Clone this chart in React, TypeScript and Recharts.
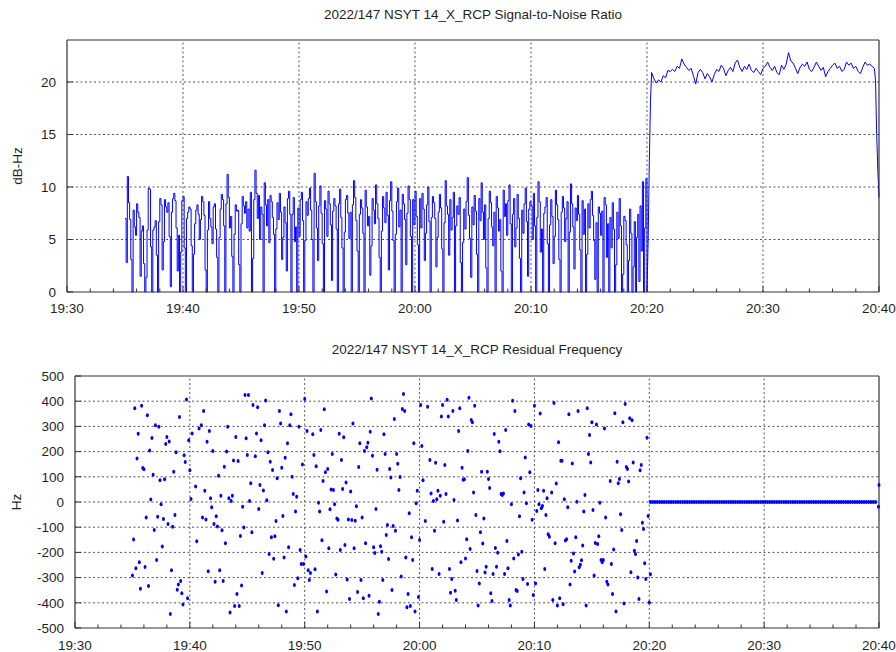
import { Line, LineChart, ReferenceLine, Scatter, ScatterChart, XAxis, YAxis } from "recharts";

const FONT = '"Liberation Sans", Arial, Helvetica, sans-serif';
const INK = "#1f1f1f";
const FRAME = "#333";
const GRID = "#555";
const BLUE = "#0000ff";

// time axis in minutes after 00:00 UTC
const T_MIN = 1170; // 19:30
const T_MAX = 1240; // 20:40
const T_MAJOR = [1170, 1180, 1190, 1200, 1210, 1220, 1230, 1240];
const T_LABELS = ["19:30", "19:40", "19:50", "20:00", "20:10", "20:20", "20:30", "20:40"];
const T_TICKS = Array.from({ length: (T_MAX - T_MIN) / 2 + 1 }, (_, i) => T_MIN + 2 * i);

const SNR_TICKS = [0, 5, 10, 15, 20];
const HZ_TICKS = [-500, -400, -300, -200, -100, 0, 100, 200, 300, 400, 500];

// SNR (dB-Hz) while searching: 19:35:00 .. 20:20:00, one sample every 6 s
const SNR_SEARCH_START = 1175;
const SNR_SEARCH = [
  7.0, 2.8, 11.0, 8.5, 6.9, 3.1, 0, 7.8, 6.2, 5.4,
  8.4, 7.6, 7.1, 1.5, 5.8, 6.3, 2.7, 0, 1.4, 5.9,
  9.9, 9.8, 4.3, 0, 5.9, 6.2, 6.8, 3.5, 0, 6.7,
  8.9, 8.3, 2.1, 4.8, 8.8, 8.1, 7.6, 8.5, 5.3, 0.5,
  7.6, 8.9, 9.4, 8.7, 6.1, 2.0, 5.4, 0, 3.8, 8.7,
  9.1, 4.2, 0, 7.0, 7.6, 8.1, 7.9, 4.4, 0, 3.6,
  6.5, 7.8, 8.3, 7.4, 5.0, 6.9, 9.1, 8.6, 7.3, 2.1,
  0, 5.9, 8.6, 7.0, 6.2, 4.6, 8.1, 8.4, 6.0, 3.3,
  0, 5.2, 7.9, 9.3, 8.8, 6.3, 0, 8.4, 11.2, 9.0,
  6.1, 7.2, 3.4, 0, 5.5, 8.3, 7.7, 7.8, 2.6, 0,
  6.5, 9.1, 8.2, 7.5, 8.6, 6.1, 7.9, 5.8, 9.5, 0,
  3.2, 8.8, 11.6, 9.4, 7.0, 9.2, 5.0, 8.1, 7.4, 0,
  10.4, 8.3, 6.3, 8.8, 4.7, 9.2, 8.6, 7.1, 5.5, 0,
  6.0, 8.5, 6.9, 9.4, 7.6, 3.1, 5.2, 8.1, 6.6, 2.0,
  8.9, 9.6, 7.4, 0, 7.4, 9.0, 4.8, 6.2, 0, 8.0,
  5.3, 8.8, 9.5, 6.8, 0, 4.9, 8.6, 7.3, 8.9, 9.9,
  7.8, 5.0, 0, 11.3, 8.6, 6.1, 3.0, 8.2, 10.1, 7.5,
  4.6, 0, 8.7, 7.9, 5.3, 9.6, 8.4, 6.4, 1.1, 7.7,
  8.9, 8.2, 6.0, 0, 8.4, 9.8, 7.1, 4.2, 0, 5.7,
  8.8, 9.2, 7.5, 5.1, 7.6, 0, 8.3, 10.6, 9.0, 6.8,
  3.9, 0, 7.4, 8.8, 8.0, 5.6, 0, 9.7, 8.1, 6.3,
  7.2, 1.6, 4.4, 8.9, 7.8, 6.5, 10.2, 8.4, 7.0, 3.3,
  0, 5.8, 9.1, 8.0, 6.6, 9.5, 7.3, 2.1, 8.7, 10.5,
  7.7, 4.9, 0, 5.5, 8.6, 9.9, 6.2, 7.8, 0, 9.3,
  8.4, 6.9, 2.6, 7.5, 10.1, 8.8, 5.3, 0, 8.8, 6.4,
  9.6, 7.2, 4.5, 0, 8.9, 6.1, 9.4, 7.9, 3.0, 5.6,
  8.3, 10.0, 6.7, 0, 7.1, 9.1, 8.5, 7.0, 2.4, 5.2,
  7.6, 9.3, 8.0, 4.1, 0, 6.6, 10.6, 8.2, 7.4, 3.5,
  8.8, 5.9, 7.1, 9.5, 0, 6.3, 8.2, 7.4, 9.0, 2.8,
  0, 4.7, 7.9, 6.0, 8.6, 10.9, 7.3, 5.1, 1.4, 8.1,
  6.4, 9.2, 7.7, 3.6, 0, 8.9, 6.8, 10.4, 7.6, 5.0,
  8.3, 2.3, 0, 7.0, 9.6, 8.5, 6.2, 4.4, 7.6, 0,
  9.1, 8.0, 5.8, 6.9, 2.0, 0, 9.7, 7.2, 8.4, 5.4,
  8.7, 10.2, 6.5, 0, 7.4, 8.9, 4.3, 6.1, 9.3, 7.0,
  3.2, 0, 7.8, 5.6, 8.4, 9.9, 6.7, 1.5, 7.9, 8.6,
  8.2, 5.0, 9.4, 6.3, 0, 7.1, 10.5, 8.6, 3.8, 6.0,
  0, 7.5, 8.1, 9.0, 4.6, 0, 6.4, 8.8, 7.2, 2.7,
  5.3, 9.7, 8.3, 6.9, 3.1, 0, 7.6, 9.1, 8.0, 4.8,
  7.0, 8.6, 0, 5.7, 10.3, 8.4, 6.2, 2.2, 8.0, 6.8,
  9.2, 7.4, 4.0, 0, 8.7, 5.5, 7.9, 0, 3.6, 8.4,
  6.1, 8.8, 9.6, 7.3, 4.9, 1.2, 6.6, 0, 8.1, 7.5,
  5.4, 7.7, 0, 9.0, 8.3, 3.3, 6.5, 0, 7.1, 4.2,
  8.5, 6.0, 0, 2.6, 7.6, 5.1, 8.9, 6.3, 0, 1.7,
  7.2, 6.8, 4.5, 0, 3.0, 7.9, 5.6, 0, 2.4, 6.7,
  0, 5.2, 7.4, 1.0, 8.2, 3.9, 10.5, 0, 6.1, 10.8,
  0,
];

// acquisition: 20:20:06 .. 20:20:18, every 6 s
const SNR_RISE_TIMES = [1220.1, 1220.2, 1220.3];
const SNR_RISE = [5.0, 12.4, 18.2];

// SNR after lock: 20:20:24, one sample every 12 s
const SNR_LOCK_START = 1220.4;
const SNR_LOCK = [
  20.9, 20.3, 19.9, 20.2, 20.0, 20.6, 20.4, 21.1, 21.0, 21.2,
  21.0, 21.5, 21.3, 22.2, 21.7, 21.4, 21.1, 21.3, 20.6, 19.8,
  20.9, 21.2, 20.9, 20.3, 20.8, 20.5, 20.0, 20.7, 21.2, 21.0,
  21.6, 21.3, 20.6, 21.1, 21.4, 21.0, 21.8, 22.1, 21.4, 21.0,
  21.5, 21.2, 21.7, 21.1, 20.9, 21.3, 21.0, 20.7, 21.3, 21.5,
  21.9, 21.4, 21.1, 21.5, 20.9, 20.7, 21.6, 21.2, 21.7, 22.8,
  22.0, 21.8, 21.3, 20.8, 21.4, 21.7, 21.5, 21.9, 21.2, 21.0,
  21.4, 21.9, 21.5, 21.1, 21.4, 20.5, 21.0, 21.3, 21.6, 21.8,
  21.3, 21.5, 21.0, 21.2, 21.9, 21.6, 21.8, 21.3, 21.5, 21.0,
  20.8, 21.4, 21.9, 21.6, 21.7, 21.5, 21.3,
];

// loss of signal at the end of the pass
const SNR_LOSS_TIMES = [1239.7, 1239.8, 1239.9, 1240];
const SNR_LOSS = [20.2, 15.0, 11.6, 9.0];

// residual frequency (Hz) while searching: 19:35:00, every 6 s, null = no fix
const HZ_SEARCH_START = 1175;
const HZ_SEARCH = [
  -292, -149, 372, -263, 173, 271, -239, -344, 382, 135,
  130, -258, -62, 344, -333, 204, 10, 254, 108, -111,
  305, -230, -59, 299, 86, -9, -177, -67, 90, 230,
  258, -87, 240, -444, -271, -98, 120, -52, 197, -348,
  -327, 337, -313, -362, -407, 186, 159, 407, -382, 245,
  126, 12, 272, null, null, 62, -156, null, 292, null,
  305, -62, 361, 45, -69, 239, -275, 282, 15, -21,
  202, -87, -316, -57, -97, 104, -271, 25, -112, -313,
  140, -164, 200, 299, 15, -438, 4, 25, 165, -413,
  258, -365, 163, -413, -135, -331, -19, -101, 425, 253,
  187, 425, 4, 74, -120, 385, null, 182, 272, 376,
  -28, 67, 245, -282, 46, 305, 403, 7, 197, -206,
  160, -140, 127, -225, -136, -75, 94, -410, 361, 312,
  136, -56, -220, 176, -435, 233, -180, 305, 348, 100,
  32, -329, -38, 21, -303, 299, -190, -246, 149, -246,
  409, -216, 282, -271, -310, -282, null, 269, 187, -267,
  142, -435, -3, -38, 286, -152, 83, 368, 118, -355,
  131, -184, -29, 50, 190, 48, -9, -288, -65, -70,
  271, -190, 167, 52, 257, -171, 77, -308, -69, -385,
  42, -71, 312, -184, -74, -17, -357, 139, 233, -310,
  -62, -382, 202, -164, 217, 235, -372, 279, 411, 184,
  -180, -202, -28, 128, -444, -396, -176, -197, -310, 269,
  190, -131, -91, -226, 131, 97, -349, -95, 329, -114,
  190, 152, 48, 99, -296, 369, 429, 361, -220, -418,
  -365, -45, -413, -140, -230, 233, -435, -5, 45, -377,
  -151, 385, 222, 86, null, -75, null, 378, null, 167,
  34, -266, 4, -114, 156, 11, 45, -286, 25, 339,
  385, -78, 147, 32, 406, 339, -266, -360, -306, 361,
  8, -352, -389, -73, 282, 372, -239, 136, 88, 90,
  -224, -148, 202, 414, -187, 325, 316, 38, 382, -52,
  -274, -411, -323, -120, 120, -165, -65, -280, -257, 120,
  91, 56, -362, -393, -286, 270, -183, -257, -201, 239,
  201, 32, 28, 34, -286, 286, -155, -263, -389, -411,
  -9, 402, -224, 361, -349, -353, -208, -57, 94, -197,
  -306, 38, 177, -5, -325, 308, 118, 302, -70, -369,
  382, -323, -36, 48, -9, 351, -25, -16, 45, -266,
  -52, 15, -128, -138, null, 38, -389, 393, -164, 73,
  -411, 237, -382, 164, 164, -406, 11, -153, -148, -21,
  348, -327, -233, 153, -204, -276, -140, 1, 361, -259,
  -249, -231, -173, -38, 28, -411, 372, 190, 266, 157,
  316, -32, -292, -163, 308, -167, -136, -3, -230, -239,
  -230, 292, -62, -316, -327, null, 83, -246, -365, -188,
  352, -435, 160, 74, 91, -49, -111, 316, -403, 389,
  139, 131, 81, 332, -279, 324, 157, -193, -206, -155,
  -300, -385, 126, 147, -82, -107, -243, -306, 255, -56,
  -399, -287,
];

// residual frequency after lock: 20:20:06, every 12 s
const HZ_LOCK_START = 1220.1;
const HZ_LOCK = [
  0, 0, 0, 0, 0, 0, 0, 0, 0, 0, 0,
  0, 0, 0, 0, 0, 0, 0, 0, 0, 0, 0,
  0, 0, 0, 0, 0, 0, 0, 0, 0, 0, 0,
  0, 0, 0, 0, 0, 0, 0, 0, 0, 0, 0,
  0, 0, 0, 0, 0, 0, 0, 0, 0, 0, 0,
  0, 0, 0, 0, 0, 0, 0, 0, 0, 0, 0,
  0, 0, 0, 0, 0, 0, 0, 0, 0, 0, 0,
  0, 0, 0, 0, 0, 0, 0, 0, 0, 0, 0,
  0, 0, 0, 0, 0, 0, 0, 0, 0, 0, 0,
];

const HZ_LOSS_TIMES = [1239.95, 1240];
const HZ_LOSS = [-19, 67];

// "search" is drawn as steps, "lock" as a plain polyline; the last search
// sample also starts the lock trace so the two join up
const snrData: Array<{ t: number; search?: number; lock?: number }> = [
  ...SNR_SEARCH.map((v, i) => ({
    t: SNR_SEARCH_START + i * 0.1,
    search: v,
    lock: i === SNR_SEARCH.length - 1 ? v : undefined,
  })),
  ...SNR_RISE.map((v, i) => ({ t: SNR_RISE_TIMES[i], lock: v })),
  ...SNR_LOCK.map((v, i) => ({ t: SNR_LOCK_START + i * 0.2, lock: v })),
  ...SNR_LOSS.map((v, i) => ({ t: SNR_LOSS_TIMES[i], lock: v })),
];

const hzData = [
  ...HZ_SEARCH.map((v, i) => ({ t: HZ_SEARCH_START + i * 0.1, hz: v })),
  ...HZ_LOCK.map((v, i) => ({ t: HZ_LOCK_START + i * 0.2, hz: v })),
  ...HZ_LOSS.map((v, i) => ({ t: HZ_LOSS_TIMES[i], hz: v })),
].filter((p) => p.hz !== null);

const textStyle = { fontFamily: FONT, fontSize: 13.5, fill: INK };

// gnuplot style: ticks point into the plot, labels only on bottom/left
function TimeTick(props: any) {
  const { x, y, payload, side, labelDy } = props;
  const k = T_MAJOR.indexOf(payload.value);
  const len = k >= 0 ? 6 : 3.5;
  const dir = side === "top" ? 1 : -1;
  return (
    <g>
      <line x1={x} x2={x} y1={y} y2={y + dir * len} stroke={FRAME} />
      {side === "bottom" && k >= 0 && (
        <text x={x} y={y + labelDy} textAnchor="middle" {...textStyle}>
          {T_LABELS[k]}
        </text>
      )}
    </g>
  );
}

function ValueTick(props: any) {
  const { x, y, payload, side } = props;
  const dir = side === "left" ? 1 : -1;
  return (
    <g>
      <line x1={x} x2={x + dir * 6} y1={y} y2={y} stroke={FRAME} />
      {side === "left" && (
        <text x={x - 11} y={y + 4.8} textAnchor="end" {...textStyle}>
          {payload.value}
        </text>
      )}
    </g>
  );
}

// top/right axes are 1px thick (a 0px axis is not drawn), they only carry the frame and inner ticks
const FrameAxes = ({ yTicks, yDomain, yWidth, xHeight, labelDy, yKey }: any) => [
  <XAxis
    key="xt"
    xAxisId="top"
    orientation="top"
    type="number"
    domain={[T_MIN, T_MAX]}
    ticks={T_TICKS}
    interval={0}
    height={1}
    tickSize={0}
    tickMargin={0}
    axisLine={{ stroke: FRAME, strokeWidth: 1.2 }}
    tickLine={false}
    tick={(p: any) => <TimeTick {...p} side="top" />}
  />,
  <XAxis
    key="xb"
    dataKey="t"
    type="number"
    domain={[T_MIN, T_MAX]}
    ticks={T_TICKS}
    interval={0}
    height={xHeight}
    tickSize={0}
    tickMargin={0}
    axisLine={{ stroke: FRAME, strokeWidth: 1.2 }}
    tickLine={false}
    tick={(p: any) => <TimeTick {...p} side="bottom" labelDy={labelDy} />}
  />,
  <YAxis
    key="yl"
    dataKey={yKey}
    type="number"
    domain={yDomain}
    ticks={yTicks}
    interval={0}
    width={yWidth}
    tickSize={0}
    tickMargin={0}
    axisLine={{ stroke: FRAME, strokeWidth: 1.2 }}
    tickLine={false}
    tick={(p: any) => <ValueTick {...p} side="left" />}
  />,
  <YAxis
    key="yr"
    yAxisId="right"
    orientation="right"
    type="number"
    domain={yDomain}
    ticks={yTicks}
    interval={0}
    width={1}
    tickSize={0}
    tickMargin={0}
    axisLine={{ stroke: FRAME, strokeWidth: 1.2 }}
    tickLine={false}
    tick={(p: any) => <ValueTick {...p} side="right" />}
  />,
];

const gridLine = { stroke: GRID, strokeDasharray: "2 2.5", strokeWidth: 1 };

function Title({ text, cx, cy }: { text: string; cx: number; cy: number }) {
  return (
    <div
      style={{
        position: "absolute",
        left: cx - 300,
        top: cy - 8,
        width: 600,
        lineHeight: "16px",
        textAlign: "center",
        fontSize: 13.5,
        color: INK,
      }}
    >
      {text}
    </div>
  );
}

function AxisName({ text, cx, cy }: { text: string; cx: number; cy: number }) {
  return (
    <div
      style={{
        position: "absolute",
        left: cx - 50,
        top: cy - 8,
        width: 100,
        lineHeight: "16px",
        textAlign: "center",
        fontSize: 13.5,
        color: INK,
        transform: "rotate(-90deg)",
      }}
    >
      {text}
    </div>
  );
}

const Dot = (p: any) => <ellipse cx={p.cx} cy={p.cy} rx={1.5} ry={2} fill={BLUE} />;

export default function App() {
  return (
    <div
      style={{
        position: "absolute",
        left: 0,
        top: 0,
        width: 896,
        height: 652,
        background: "#fff",
        fontFamily: FONT,
      }}
    >
      <Title text="2022/147 NSYT 14_X_RCP Signal-to-Noise Ratio" cx={473} cy={15} />
      <AxisName text="dB-Hz" cx={17.5} cy={166} />
      <div style={{ position: "absolute", left: 0, top: 0 }}>
        <LineChart width={896} height={326} data={snrData} margin={{ top: 39, right: 16, bottom: 0, left: 0 }}>
          {FrameAxes({ yTicks: SNR_TICKS, yDomain: [0, 24], yWidth: 67, xHeight: 34, labelDy: 21, yKey: "lock" })}
          {T_MAJOR.slice(1, -1).map((v) => (
            <ReferenceLine key={"vx" + v} x={v} {...gridLine} />
          ))}
          {SNR_TICKS.slice(1).map((v) => (
            <ReferenceLine key={"hy" + v} y={v} {...gridLine} />
          ))}
          <Line
            type="stepAfter"
            dataKey="search"
            stroke={BLUE}
            strokeWidth={1}
            dot={false}
            isAnimationActive={false}
          />
          <Line
            type="linear"
            dataKey="lock"
            stroke={BLUE}
            strokeWidth={1}
            dot={false}
            isAnimationActive={false}
          />
        </LineChart>
      </div>

      <Title text="2022/147 NSYT 14_X_RCP Residual Frequency" cx={477} cy={350} />
      <AxisName text="Hz" cx={17} cy={502} />
      <div style={{ position: "absolute", left: 0, top: 326 }}>
        <ScatterChart width={896} height={326} margin={{ top: 49, right: 16, bottom: 0, left: 0 }}>
          {FrameAxes({ yTicks: HZ_TICKS, yDomain: [-500, 500], yWidth: 75, xHeight: 24, labelDy: 22, yKey: "hz" })}
          {T_MAJOR.slice(1, -1).map((v) => (
            <ReferenceLine key={"vx" + v} x={v} {...gridLine} />
          ))}
          {HZ_TICKS.slice(1, -1).map((v) => (
            <ReferenceLine key={"hy" + v} y={v} {...gridLine} />
          ))}
          <Scatter data={hzData} dataKey="hz" shape={Dot} isAnimationActive={false} />
        </ScatterChart>
      </div>
    </div>
  );
}
